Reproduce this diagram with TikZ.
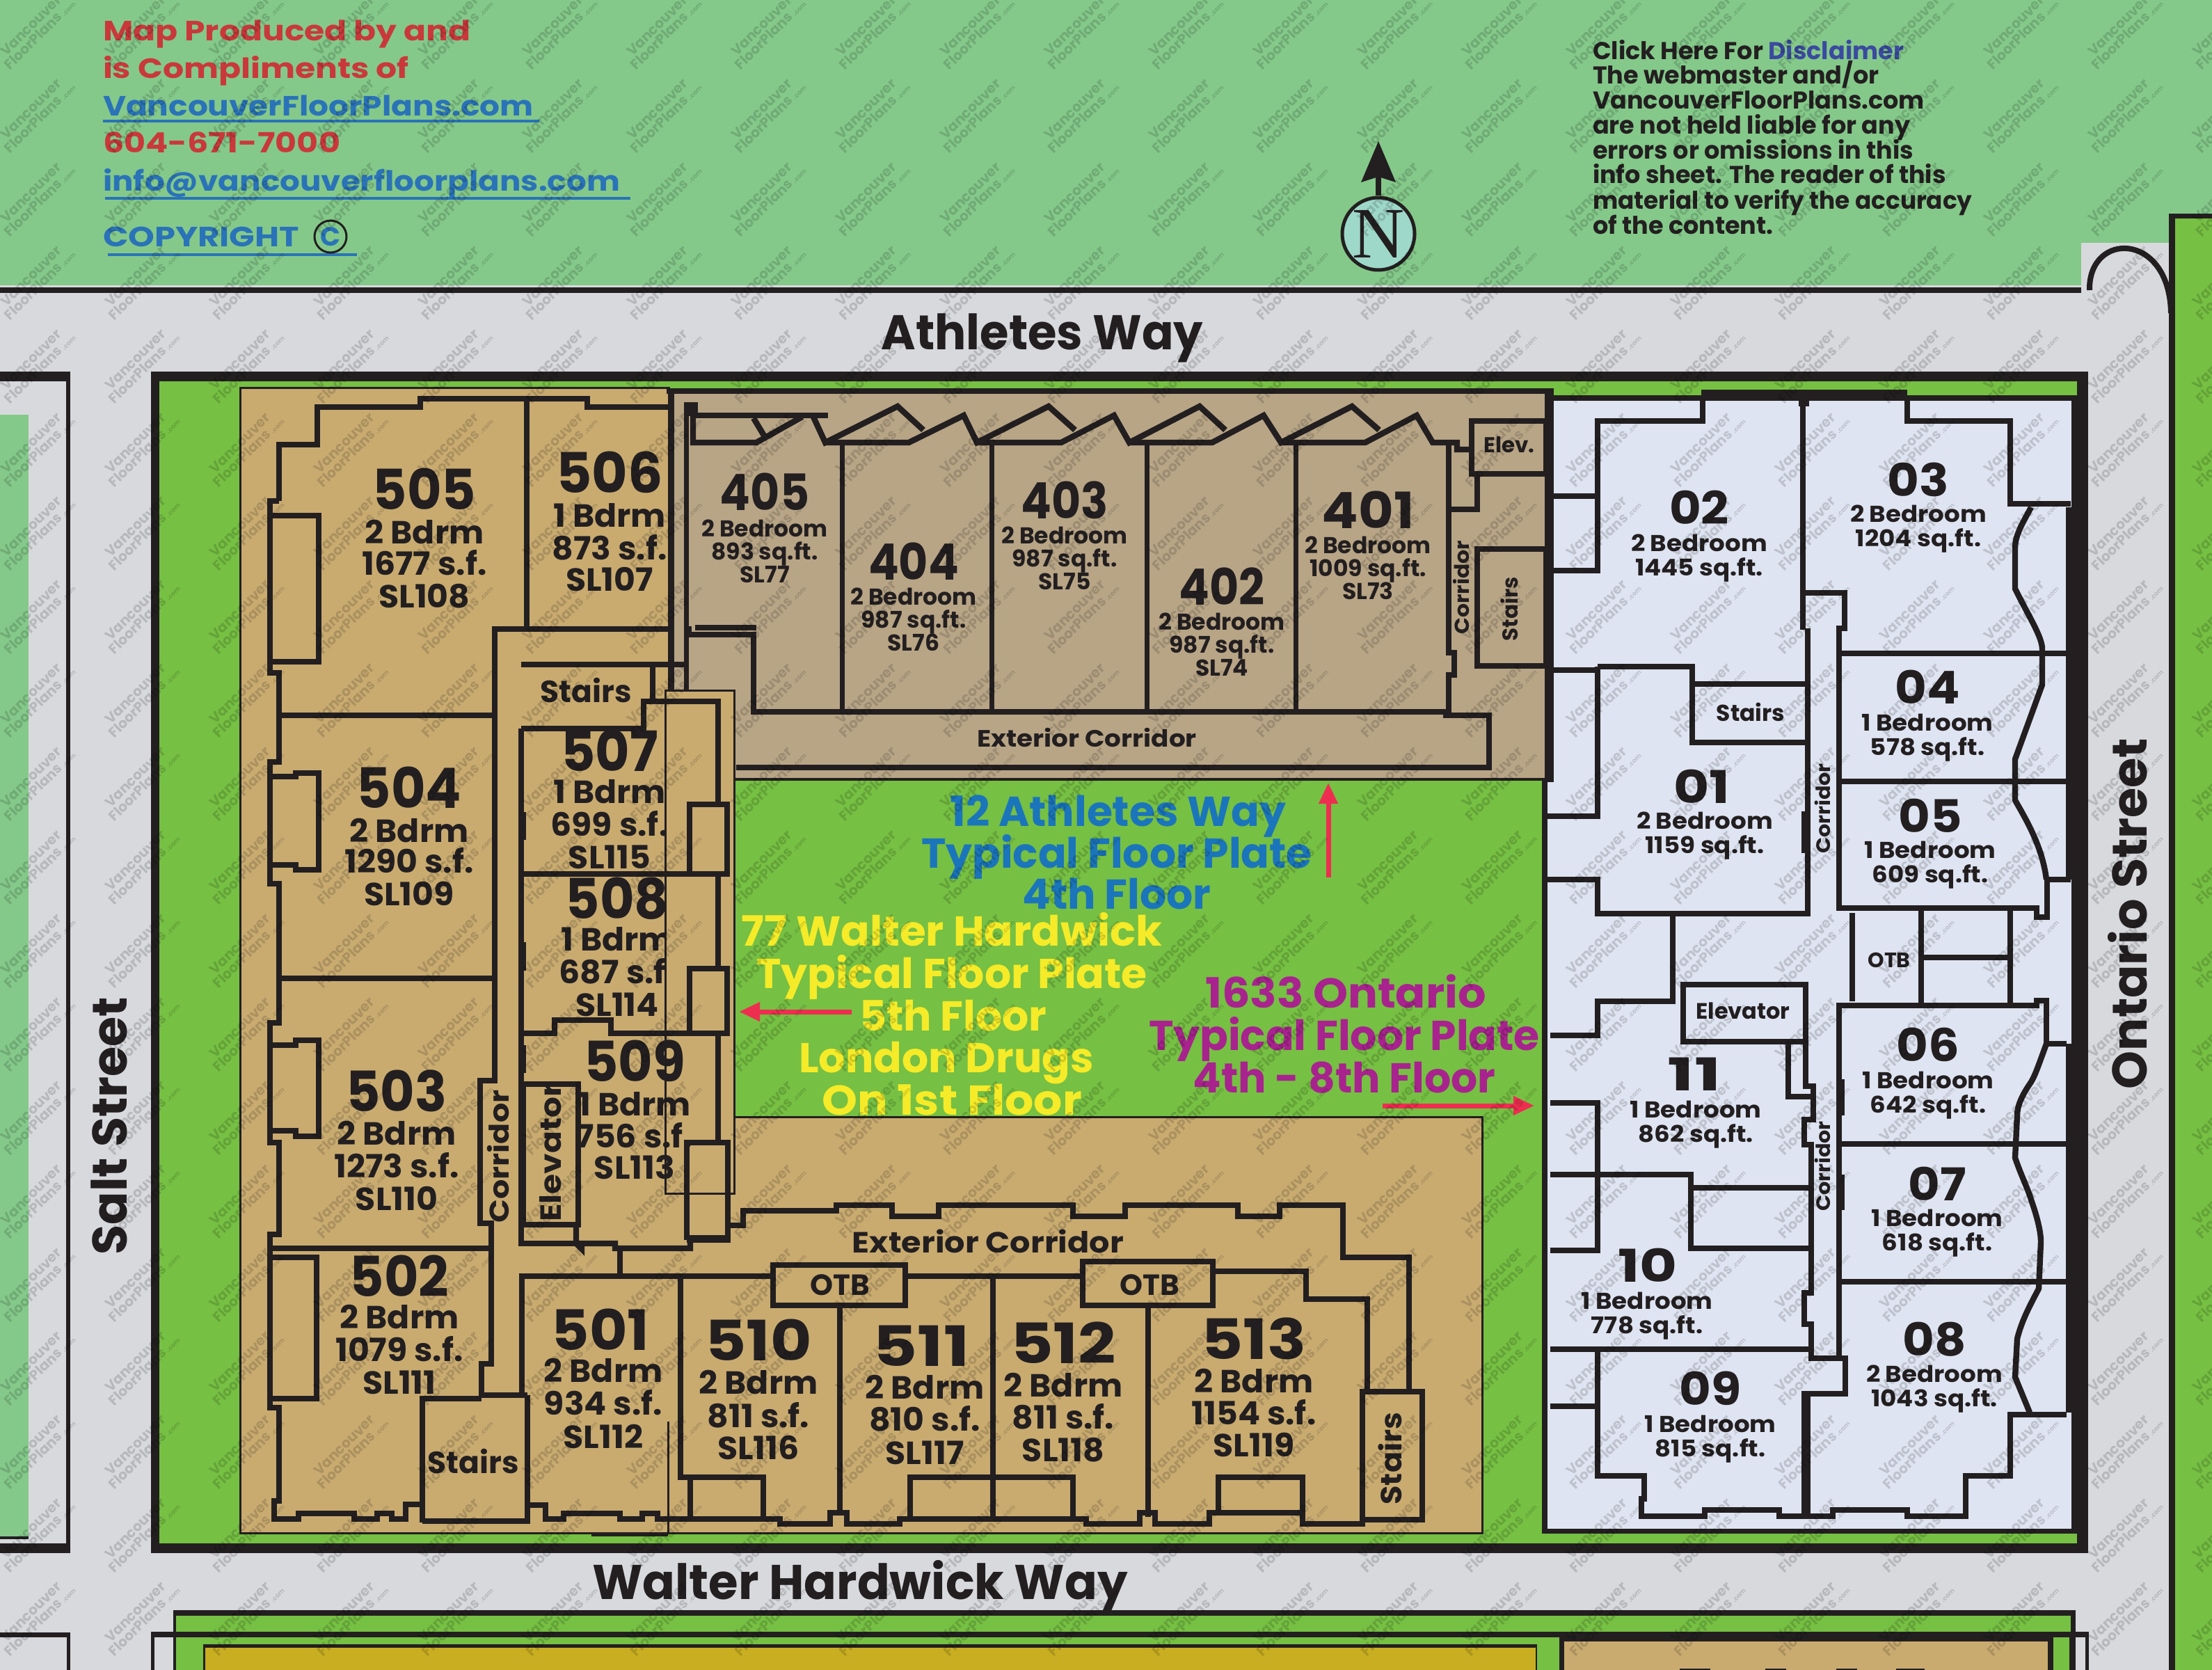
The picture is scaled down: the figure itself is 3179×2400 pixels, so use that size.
\documentclass[tikz,border=0pt]{standalone}
\usepackage{fontspec}
\usepackage{graphicx}
\usetikzlibrary{arrows.meta}
\setmainfont{Poppins}
\newfontfamily\serifN{Liberation Serif}
\definecolor{topgreen}{HTML}{84C98A}
\definecolor{road}{HTML}{D7D9DC}
\definecolor{grass}{HTML}{76C043}
\definecolor{tanA}{HTML}{C9AB70}
\definecolor{tanB}{HTML}{B8A586}
\definecolor{lav}{HTML}{DFE4F2}
\definecolor{ink}{HTML}{231F20}
\definecolor{redt}{HTML}{C9393B}
\definecolor{bluet}{HTML}{2A73B8}
\definecolor{bluec}{HTML}{1B75BB}
\definecolor{discl}{HTML}{3B4AA0}
\definecolor{yel}{HTML}{F5EB28}
\definecolor{mag}{HTML}{A8238E}
\definecolor{redar}{HTML}{EE2E50}
\definecolor{mustard}{HTML}{C9AE22}
\definecolor{nfill}{HTML}{9ED8C8}
\newcounter{nid}
\tikzset{
  wall/.style={draw=ink,line width=8.4pt,line join=miter,miter limit=4},
  wallthin/.style={draw=ink,line width=3pt},
  curve/.style={draw=ink,line width=8.4pt,line join=round},
  lbl/.style={inner sep=0pt,outer sep=0pt,anchor=base,text=ink,font=\bfseries},
  lblL/.style={lbl,anchor=base west},
  pointer/.style={draw=redar,line width=7pt,-{Triangle[length=30pt,width=26pt]}},
  wm/.style={inner sep=0pt,rotate=45,align=center,text=black,text opacity=0.15,font=\fontsize{20}{18}\selectfont\bfseries}
}
\newcommand\SX[2]{\scalebox{#1}[1]{#2}}
\newcommand\T[5][1]{\stepcounter{nid}\node[lbl] (t\arabic{nid}) at (#2,{#3+0.35*#4}) {\fontsize{#4}{#4}\selectfont\scalebox{#1}[1]{#5}};}
\newcommand\V[5][1]{\stepcounter{nid}\node[lbl,rotate=90] (t\arabic{nid}) at ({#2+0.35*#4},#3) {\fontsize{#4}{#4}\selectfont\scalebox{#1}[1]{#5}};}
\newcommand\LL[5][1]{\stepcounter{nid}\node[lblL] (t\arabic{nid}) at (#2,#3) {\fontsize{#4}{#4}\selectfont\scalebox{#1}[1]{#5}};}
\newcommand\Ufive[9]{\T[.95]{#1}{#2}{80}{#3}\T[1.03]{#4}{#5}{46}{#6}\T[1.03]{#4}{#7}{46}{#8}\T[1.03]{#4}{#9}{46}}
\newcommand\Ufour[7]{\T[.9]{#1}{#2}{72}{#3}\T{#1}{#2+#4}{33}{#5}\T{#1}{#2+#4+33}{33}{#6}\T{#1}{#2+#4+66}{33}{#7}}
\newcommand\Uone[7]{\T[1.08]{#1}{#2}{65}{#3}\T[1.08]{#4}{#5}{33}{#6}\T[1.08]{#4}{#5+35}{33}{#7}}
\begin{document}
\begin{tikzpicture}[x=1pt,y=-1pt]
\useasboundingbox (0,0) rectangle (3179,2400);
% ground
\fill[topgreen] (0,0) rectangle (3179,412);
\fill[road] (0,410) rectangle (3122,2400);
\fill[ink] (0,413) rectangle (3003,421);
\fill[road] (2991,349) rectangle (3124,430);
\draw[ink,line width=8pt,fill=road] (3003,417) .. controls (3001,332) and (3118,332) .. (3120,450);
\fill[ink] (3117,307) rectangle (3179,2400);
\fill[grass] (3126,314) rectangle (3179,2400);
% left block
\fill[ink] (0,534) rectangle (101,2232);
\fill[road] (0,548) rectangle (95,2218);
\fill[topgreen] (0,596) rectangle (41,2208);
\fill[ink] (0,2208) rectangle (41,2212);
\fill[ink] (0,2346) rectangle (101,2353);
\fill[ink] (96,2353) rectangle (101,2400);
% lower strip
\fill[ink] (249,2314) rectangle (2983,2353);
\fill[grass] (253,2322) rectangle (2976,2346);
\fill[ink] (217,2345) rectangle (3002,2353);
\fill[ink] (217,2353) rectangle (222,2400);
\fill[ink] (2997,2353) rectangle (3002,2400);
\fill[ink] (249,2353) rectangle (2983,2400);
\fill[grass] (253,2353) rectangle (2974,2400);
\fill[ink] (292,2363) rectangle (2209,2400);
\fill[mustard] (295,2368) rectangle (2207,2400);
\fill[ink] (2241,2353) rectangle (2951,2400);
\fill[tanA] (2248,2359) rectangle (2943,2400);
\fill[ink] (2414,2398) rectangle (2458,2400);
\fill[ink] (2537,2398) rectangle (2567,2400);
\fill[ink] (2639,2398) rectangle (2669,2400);
\fill[ink] (2725,2398) rectangle (2766,2400);
% lot
\fill[ink] (217,534) rectangle (3001,2232);
\fill[grass] (229,548) rectangle (2985,2218);
% right building
\fill[ink] (2216,568) rectangle (2985,2204);
\fill[lav] (2224,576) rectangle (2977,2197);
\fill[ink] (2969,729) rectangle (2977,1264);
\fill[ink] (2969,1500) rectangle (2977,2030);
\fill[ink] (2445,560) rectangle (2741,576);
% left building
\filldraw[tanA,draw=ink,line width=3pt] (345,557) -- (961,557) -- (961,1121) -- (1054,1121) -- (1054,1605) -- (2130,1605) -- (2130,2203) -- (345,2203) -- cycle;
\fill[ink] (850,2204) rectangle (960,2208);
\draw[wall] (401,720) -- (401,639) -- (456,639) -- (456,585) -- (604,585) -- (604,573) -- (844,573) -- (844,585) -- (994,585);
\draw[wall] (401,720) -- (388,720) -- (388,967) -- (401,967) -- (401,1095) -- (388,1095) -- (388,1270) -- (401,1270) -- (401,1470) -- (388,1470) -- (388,1642) -- (401,1642) -- (401,1774) -- (388,1774) -- (388,2023) -- (401,2023) -- (401,2157) -- (394,2157) -- (394,2183) -- (429,2183) -- (429,2175) -- (509,2175) -- (509,2183) -- (542,2183) -- (542,2175) -- (563,2175) -- (563,2183) -- (583,2183) -- (583,2162) -- (607,2162);
\draw[wall] (388,741) -- (458,741) -- (458,951) -- (388,951);
\draw[wall] (388,1116) -- (425,1116) -- (425,1111) -- (458,1111) -- (458,1250) -- (425,1250) -- (425,1243) -- (388,1243);
\draw[wall] (388,1502) -- (425,1502) -- (425,1495) -- (458,1495) -- (458,1633) -- (425,1633) -- (425,1625) -- (388,1625);
\draw[wall] (388,1807) -- (455,1807) -- (455,2010) -- (388,2010);
\draw[wall] (757,573) -- (757,904);
\draw[wall] (401,1028) -- (711,1028);
\draw[wall] (401,1406) -- (711,1406);
\draw[wall] (994,904) -- (711,904) -- (711,1553) -- (690,1553) -- (690,1758) -- (706,1758) -- (706,1960) -- (692,1960) -- (692,2005) -- (758,2005);
\draw[wall] (388,1794) -- (706,1794);
\draw[wall] (607,2188) -- (607,2010) -- (692,2010);
\draw[wall] (607,2186) -- (758,2186) -- (758,2005);
\draw[wall] (758,2163) -- (784,2163) -- (784,2183) -- (810,2183) -- (810,2175) -- (891,2175) -- (891,2183) -- (923,2183) -- (923,2175) -- (945,2175) -- (945,2183) -- (1121,2183) -- (1121,2190) -- (1193,2190) -- (1193,2174) -- (1217,2174) -- (1217,2190) -- (1293,2190) -- (1293,2183) -- (1561,2183) -- (1561,2190) -- (1638,2190) -- (1638,2174) -- (1660,2174) -- (1660,2190) -- (1738,2190) -- (1738,2174) -- (1872,2174) -- (1872,2190) -- (1958,2190) -- (1958,2183);
\draw[wallthin] (960,2043) -- (960,2203);
\draw[wall] (750,2005) -- (750,1834) -- (1111,1834);
\draw[wall] (749,1047) -- (749,1787) -- (828,1787);
\foreach \a/\b in {1167/1207,1354/1395,1502/1542,1604/1631,1678/1712}{\draw[draw=ink,line width=10pt] (751,\a) -- (751,\b);}
% bottom wing walls
\draw[wall] (987,1782) -- (1046,1782) -- (1046,1761) -- (1068,1761) -- (1068,1740) -- (1202,1740) -- (1202,1732) -- (1282,1732) -- (1282,1748) -- (1349,1748) -- (1349,1732) -- (1542,1732) -- (1542,1748) -- (1617,1748) -- (1617,1732) -- (1779,1732) -- (1779,1748) -- (1839,1748) -- (1839,1732) -- (1930,1732) -- (1930,1807) -- (2025,1807) -- (2025,2000);
\draw[wall] (828,1760) -- (828,1787) -- (836,1795) -- (836,1787) -- (884,1787) -- (884,1794) -- (992,1794) -- (992,1782);
\draw[wall] (891,1797) -- (891,1834);
\draw[wall,fill=tanA] (1111,1818) rectangle (1301,1876);
\draw[wall,fill=tanA] (1556,1813) rectangle (1743,1876);
\draw[wall] (1301,1834) -- (1556,1834);
\draw[wall] (1743,1827) -- (1877,1827) -- (1877,1867) -- (1965,1867) -- (1965,2000);
\draw[wall,fill=tanA] (1958,2000) rectangle (2044,2184);
\draw[wall] (978,1834) -- (978,2123) -- (1097,2123) -- (1097,2183);
\draw[wall] (992,2123) -- (992,2183);
\draw[wall] (1207,1876) -- (1207,2176);
\draw[wall] (1427,1834) -- (1427,2183);
\draw[wall] (1308,2183) -- (1308,2123) -- (1542,2123) -- (1542,2183);
\draw[wall] (1650,1876) -- (1650,2180);
\draw[wall] (1751,2174) -- (1751,2123) -- (1872,2123) -- (1872,2174);
% text of wing
\Ufive{610}{704}{505}{610}{765}{2 Bdrm}{810}{1677 s.f.}{857}{SL108}
\Ufive{876}{680}{\SX{1.04}{506}}{876}{741}{1 Bdrm}{788}{873 s.f.}{833}{SL107}
\Ufive{588}{1133}{504}{588}{1194}{2 Bdrm}{1238}{1290 s.f.}{1285}{SL109}
\Ufive{570}{1569}{503}{570}{1629}{2 Bdrm}{1676}{1273 s.f.}{1723}{SL110}
\Ufive{574}{1835}{502}{574}{1893}{2 Bdrm}{1940}{1079 s.f.}{1987}{SL111}
\Ufive{863}{1912}{\SX{1.1}{501}}{867}{1970}{2 Bdrm}{2017}{934 s.f.}{2065}{SL112}
\Ufive{1090}{1927}{\SX{1.2}{510}}{1090}{1987}{2 Bdrm}{2035}{811 s.f.}{2081}{SL116}
\Ufive{1324}{1935}{\SX{1.3}{511}}{1329}{1994}{2 Bdrm}{2040}{810 s.f.}{2088}{SL117}
\Ufive{1528}{1931}{\SX{1.25}{512}}{1528}{1991}{2 Bdrm}{2037}{811 s.f.}{2084}{SL118}
\Ufive{1802}{1925}{\SX{1.22}{513}}{1802}{1985}{2 Bdrm}{2031}{1154 s.f.}{2077}{SL119}
\Ufive{876}{1080}{507}{876}{1138}{1 Bdrm}{1185}{699 s.f.}{1232}{SL115}
\Ufive{887}{1292}{508}{887}{1350}{1 Bdrm}{1397}{687 s.f.}{1444}{SL114}
\T{842}{994}{44}{Stairs}
\T{680}{2102}{44}{Stairs}
\T[1.1]{1420}{1786}{42}{Exterior Corridor}
\T{1207}{1847}{42}{OTB}
\T{1652}{1847}{42}{OTB}
\V[1.06]{2000}{2096}{42}{Stairs}
% 400 building
\fill[tanB] (962,558) rectangle (2232,1118);
\fill[ink] (958,558) rectangle (2232,566);
\fill[ink] (2220,558) rectangle (2233,1124);
\fill[ink] (1055,1118) rectangle (2224,1122);
\draw[draw=ink,line width=7pt] (965,558) -- (965,992);
\draw[draw=ink,line width=7pt] (986,578) -- (986,1006);
\fill[ink] (984,578) rectangle (1003,598);
\draw[wall] (994,904) -- (986,904);
\draw[wall] (999,902) -- (1087,902);
\draw[wall] (990,912) -- (1083,912) -- (1083,1023) -- (2082,1023);
\draw[wall] (2074,1028) -- (2140,1028) -- (2140,1103) -- (1058,1103);
\draw[wall] (996,597) -- (996,636) -- (1087,636) -- (1153,599);
\draw[wall] (996,597) -- (1190,597);
\draw[wall] (1083,601) -- (1098,626);
\draw[wall] (1167,595) -- (1186,636) -- (1290,584) -- (1327,618);
\draw[wall] (1186,636) -- (1306,636) -- (1385,597) -- (1404,636) -- (1507,584) -- (1545,618);
\draw[wall] (1404,636) -- (1525,636) -- (1601,597) -- (1623,636) -- (1724,584) -- (1761,618);
\draw[wall] (1623,636) -- (1742,636) -- (1816,597) -- (1841,636) -- (1943,584) -- (1982,618);
\draw[wall] (1841,636) -- (1962,636) -- (2036,597) -- (2059,636) -- (2094,636) -- (2094,646) -- (2115,646);
\draw[wall] (2082,640) -- (2082,938) -- (2090,938) -- (2090,970) -- (2082,970) -- (2082,1028);
\draw[wall] (2115,605) rectangle (2222,681);
\draw[wall] (2123,683) -- (2123,732) -- (2082,732);
\draw[wall] (2123,789) rectangle (2222,957);
\foreach \xx in {1210,1425,1648,1862}{\draw[draw=ink,line width=7pt] (\xx,636) -- (\xx,1023);}
\Ufour{1099}{708}{405}{52}{2 Bedroom}{893 sq.ft.}{SL77}
\Ufour{1313}{808}{404}{50}{2 Bedroom}{987 sq.ft.}{SL76}
\Ufour{1530}{720}{403}{50}{2 Bedroom}{987 sq.ft.}{SL75}
\Ufour{1756}{844}{402}{50}{2 Bedroom}{987 sq.ft.}{SL74}
\Ufour{1966}{734}{\SX{1.2}{401}}{50}{2 Bedroom}{1009 sq.ft.}{SL73}
\T[1.1]{1562}{1062}{34}{Exterior Corridor}
\V[1.08]{2101}{844}{29}{Corridor}
\T{2169}{640}{31}{Elev.}
\V{2171}{875}{31}{Stairs}
% overlay over the wing
\filldraw[tanA,draw=ink,line width=3pt] (956,992) rectangle (1055,1715);
\draw[draw=ink,line width=7pt] (965,955) -- (965,992);
\draw[wall] (749,955) -- (989,955);
\draw[wall] (749,1047) -- (925,1047) -- (925,1008) -- (1032,1008) -- (1032,1156);
\draw[wall] (938,955) -- (938,1008);
\draw[wall] (991,1156) rectangle (1045,1256);
\draw[wall] (749,1256) -- (1045,1256);
\draw[wall] (1032,1256) -- (1032,1392);
\draw[wall] (991,1392) rectangle (1045,1485);
\draw[wall] (749,1485) -- (797,1485) -- (797,1466) -- (878,1466) -- (878,1485) -- (1045,1485);
\draw[wall] (1032,1485) -- (1032,1642);
\Ufive{912}{1526}{509}{912}{1587}{1 Bdrm}{1633}{756 s.f.}{1678}{SL113}
\draw[wall] (987,1782) -- (987,1642) -- (1046,1642) -- (1046,1782);
\draw[wall] (987,1779) -- (1046,1779);
\draw[wallthin] (1055,1642) -- (1055,1715);
\draw[wallthin] (956,1715) -- (1055,1715);
\draw[wall,fill=tanA] (752,1558) rectangle (831,1760);
\V[1.14]{718}{1662}{39}{Corridor}
\V[1.12]{792}{1656}{42}{Elevator}
% right building walls
\draw[wall] (2233,713) -- (2296,713);
\draw[wall] (2447,572) -- (2447,605) -- (2296,605) -- (2296,820) -- (2233,820);
\draw[wall] (2233,963) -- (2296,963);
\draw[wall] (2296,958) -- (2432,958) -- (2432,983) -- (2598,983);
\draw[wall] (2432,983) -- (2432,1067) -- (2598,1067);
\draw[wall] (2296,958) -- (2296,1173) -- (2224,1173);
\draw[wall] (2224,1264) -- (2296,1264) -- (2296,1313) -- (2598,1313) -- (2598,1170) -- (2593,1170) -- (2593,1222) -- (2598,1222);
\draw[wall] (2598,903) -- (2598,1170);
\draw[wall] (2591,572) -- (2591,905);
\fill[ink] (2585,575) rectangle (2600,584);
\draw[wall] (2595,852) -- (2651,852) -- (2651,903) -- (2643,903) -- (2643,1305) -- (2927,1305) -- (2927,1318) -- (2942,1318) -- (2942,1264) -- (2976,1264);
\draw[wall] (2741,572) -- (2741,605) -- (2889,605) -- (2889,724) -- (2976,724);
\draw[curve] (2919,729) .. controls (2905,755) and (2896,770) .. (2896,787) -- (2896,846) .. controls (2915,885) and (2935,915) .. (2935,933) -- (2935,984) -- (2896,1091) -- (2896,1150) .. controls (2910,1175) and (2935,1215) .. (2941,1264);
\draw[wall] (2644,939) -- (2970,939);
\draw[wall] (2644,1123) -- (2970,1123);
\draw[wall] (2404,1315) -- (2404,1439) -- (2296,1439) -- (2296,1488) -- (2228,1488);
\draw[wall,fill=lav] (2419,1415) rectangle (2595,1497);
\draw[wall] (2570,1497) -- (2570,1576) -- (2606,1576);
\draw[wall] (2595,1497) -- (2595,1561) -- (2606,1561) -- (2606,1609) -- (2593,1609) -- (2593,1645) -- (2603,1645) -- (2603,1858) -- (2593,1858) -- (2593,1903) -- (2603,1903) -- (2603,1952) -- (2652,1952) -- (2652,2003) -- (2593,2003) -- (2593,2179) -- (2557,2179) -- (2557,2170) -- (2450,2170) -- (2450,2179) -- (2359,2179) -- (2359,2154) -- (2363,2154) -- (2363,2121) -- (2296,2121) -- (2296,1939);
\draw[wall] (2228,1585) -- (2296,1585) -- (2296,1797) -- (2228,1797);
\draw[wall] (2228,1688) -- (2430,1688) -- (2430,1794) -- (2600,1794);
\draw[wall] (2430,1707) -- (2600,1707);
\draw[wall] (2228,1939) -- (2603,1939);
\draw[wall] (2228,2021) -- (2296,2021);
\draw[wall] (2598,2003) -- (2598,2179) -- (2634,2179) -- (2634,2170) -- (2741,2170) -- (2741,2179) -- (2825,2179) -- (2825,2121) -- (2889,2121) -- (2889,2033) -- (2970,2033);
\draw[wall] (2643,1952) -- (2643,1445) -- (2927,1445) -- (2927,1438) -- (2941,1438) -- (2941,1500) -- (2970,1500);
\fill[ink] (2643,1551) rectangle (2651,1603);
\fill[ink] (2643,1688) rectangle (2651,1739);
\draw[wall] (2662,1312) -- (2662,1439);
\draw[wall] (2761,1308) -- (2761,1445);
\draw[wall] (2889,1308) -- (2889,1445);
\draw[wall] (2761,1376) -- (2889,1376);
\draw[wall] (2643,1644) -- (2970,1644);
\draw[wall] (2643,1842) -- (2970,1842);
\draw[curve] (2941,1500) .. controls (2930,1530) and (2925,1545) .. (2919,1555) .. controls (2905,1575) and (2899,1590) .. (2899,1603) -- (2896,1664) .. controls (2905,1690) and (2915,1710) .. (2919,1724) .. controls (2928,1750) and (2933,1770) .. (2933,1785) -- (2930,1852) .. controls (2915,1880) and (2905,1900) .. (2899,1924) -- (2896,1979) -- (2917,2030);
\Uone{2442}{731}{02}{2442}{781}{2 Bedroom}{1445 sq.ft.}
\Uone{2757}{691}{03}{2757}{739}{2 Bedroom}{1204 sq.ft.}
\Uone{2446}{1132}{\SX{1.12}{01}}{2450}{1180}{2 Bedroom}{1159 sq.ft.}
\Uone{2770}{989}{04}{2770}{1039}{1 Bedroom}{578 sq.ft.}
\Uone{2774}{1174}{05}{2774}{1222}{1 Bedroom}{609 sq.ft.}
\Uone{2435}{1545}{\SX{1.45}{11}}{2437}{1595}{1 Bedroom}{862 sq.ft.}
\Uone{2771}{1503}{06}{2771}{1553}{1 Bedroom}{642 sq.ft.}
\Uone{2784}{1703}{07}{2784}{1751}{1 Bedroom}{618 sq.ft.}
\Uone{2368}{1820}{\SX{1.18}{10}}{2367}{1870}{1 Bedroom}{778 sq.ft.}
\Uone{2780}{1926}{08}{2780}{1975}{2 Bedroom}{1043 sq.ft.}
\Uone{2458}{1997}{09}{2458}{2047}{1 Bedroom}{815 sq.ft.}
\T{2516}{1025}{33}{Stairs}
\V[1.08]{2621}{1162}{28}{Corridor}
\V[1.08]{2621}{1676}{28}{Corridor}
\T{2715}{1380}{30}{OTB}
\T{2505}{1453}{32}{Elevator}
% courtyard labels
\T{1607}{1166}{60}{\color{bluec}12 Athletes Way}
\T{1605}{1226}{60}{\color{bluec}Typical Floor Plate}
\T{1605}{1285}{60}{\color{bluec}4th Floor}
\T[1.02]{1368}{1338}{60}{\color{yel}77 Walter Hardwick}
\T{1368}{1399}{60}{\color{yel}Typical Floor Plate}
\T{1370}{1460}{60}{\color{yel}5th Floor}
\T{1360}{1520}{60}{\color{yel}London Drugs}
\T[1.08]{1368}{1581}{60}{\color{yel}On 1st Floor}
\T[1.06]{1934}{1427}{60}{\color{mag}1633 Ontario}
\T{1932}{1488}{60}{\color{mag}Typical Floor Plate}
\T{1932}{1549}{60}{\color{mag}4th - 8th Floor}
\coordinate (au1) at (1909,1261); \coordinate (au2) at (1909,1125);
\coordinate (al1) at (1224,1454); \coordinate (al2) at (1062,1454);
\coordinate (ar1) at (1987,1589); \coordinate (ar2) at (2205,1589);
\draw[pointer] (au1) -- (au2);
\draw[pointer] (al1) -- (al2);
\draw[pointer] (ar1) -- (ar2);
% streets
\T[.96]{1498}{478}{70}{Athletes Way}
\T[.985]{1236}{2274}{70}{Walter Hardwick Way}
\V{158}{1618}{70}{Salt Street}
\V{3061}{1313}{70}{Ontario Street}
% header left
\LL[1.18]{148}{59}{40}{\color{redt}Map Produced by and}
\LL[1.18]{148}{113}{40}{\color{redt}is Compliments of}
\LL[1.135]{148}{167}{40}{\color{bluet}VancouverFloorPlans.com}
\LL[1.19]{148}{220}{40}{\color{redt}604-671-7000}
\LL[1.13]{148}{275}{40}{\color{bluet}info@vancouverfloorplans.com}
\LL[1.2]{148}{354}{40}{\color{bluet}COPYRIGHT}
\fill[bluet] (148,172) rectangle (775,176);
\fill[bluet] (151,283) rectangle (906,287);
\fill[bluet] (155,364) rectangle (513,368);
\T{475}{340}{38}{\color{bluet}C}
\node[circle,draw=ink,line width=3pt,minimum size=46pt,inner sep=0pt] (copyc) at (475,340) {};
% disclaimer
\LL{2289}{86}{35}{Click Here For \textcolor{discl}{Disclaimer}}
\LL{2289}{121}{35}{The webmaster and/or}
\LL{2289}{157}{35}{VancouverFloorPlans.com}
\LL{2289}{193}{35}{are not held liable for any}
\LL{2289}{229}{35}{errors or omissions in this}
\LL{2289}{264}{35}{info sheet. The reader of this}
\LL[.98]{2289}{300}{35}{material to verify the accuracy}
\LL{2289}{336}{35}{of the content.}
% north
\node[circle,draw=ink,line width=5pt,fill=nfill,minimum size=104pt,inner sep=0pt,text=ink,font=\fontsize{104}{104}\selectfont\serifN] (ncirc) at (1981,336) {N};
\coordinate (ntip) at (1981,240);
\draw[ink,line width=8pt] (ncirc) -- (ntip);
\fill[ink] (1981,203) -- (2006,262) -- (1981,254) -- (1956,262) -- cycle;
% watermark
\foreach \i in {0,...,21}{\foreach \j in {0,...,19}{
  \node[wm] (w\i-\j) at ({51+150*\i},{43+120*\j}) {Vancouver\\FloorPlans\,{\fontsize{9}{9}\selectfont .com}};
}}
\end{tikzpicture}
\end{document}
